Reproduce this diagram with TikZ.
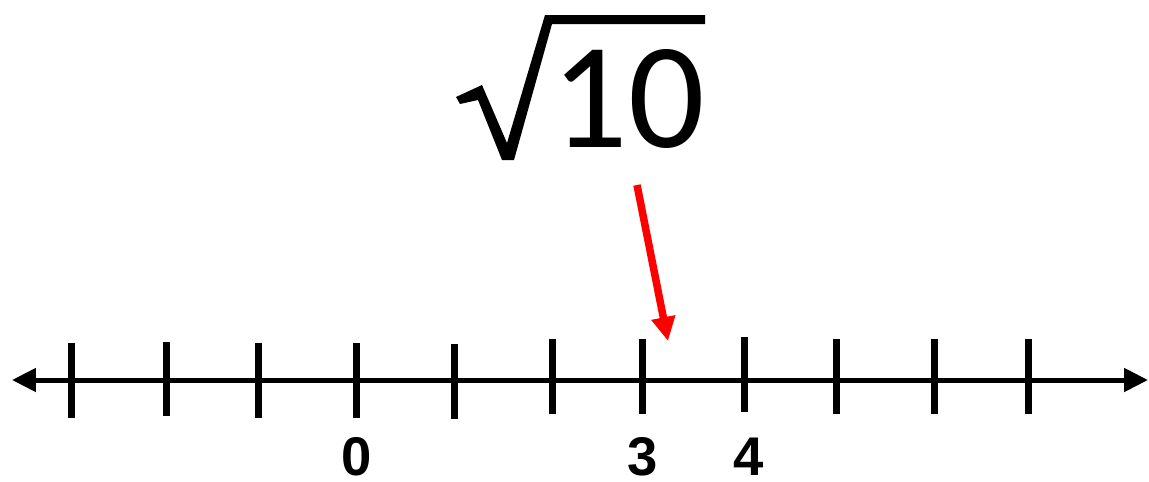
\documentclass[tikz,border=0pt]{standalone}
\usepackage{fontspec}
\setmainfont{Liberation Sans}
\newfontfamily\rootfont{Carlito}
\usetikzlibrary{arrows.meta}

\begin{document}
\begin{tikzpicture}[
    x=0.02cm, y=-0.02cm,
    axis/.style={
        line width=0.1cm,
        {Triangle[length=0.48cm,width=0.46cm]}-{Triangle[length=0.48cm,width=0.46cm]}
    },
    tick/.style={line width=0.14cm},
    lbl/.style={font=\fontsize{31}{31}\selectfont\bfseries, anchor=base, inner sep=0pt},
    pointer/.style={
        draw=red, line width=0.15cm,
        -{Triangle[length=0.48cm,width=0.46cm]}
    }
]
    \useasboundingbox (0,0) rectangle (1149,481);

    % number line
    \coordinate (left) at (12,380);
    \coordinate (right) at (1148,380);
    \draw[axis] (left) -- (right);

    % tick marks: x / top / bottom
    \foreach \x/\t/\b [count=\i] in {71/343/418, 166/342/416, 258/343/418,
        356/343/418, 454/344/419, 552/339/414, 642/339/414, 744/337/412,
        836/339/414, 934/339/414, 1028/339/414}
        \draw[tick] (\x,\t) coordinate (t\i) -- (\x,\b) coordinate (b\i);

    % labels
    \node[lbl] (zero) at (357,475) {0};
    \node[lbl] (three) at (643,475) {3};
    \node[lbl] (four) at (749,475) {4};

    % square root of ten
    \node[font=\rootfont\fontsize{86}{86}\selectfont, anchor=base, inner sep=0pt]
        (ten) at (628,147) {10};
    \fill (456,97) -- (482,85) -- (507,143) -- (545,15) -- (705,15)
        -- (705,24) -- (552,24) -- (514,160) -- (502,160) -- (478,100)
        -- (460,104) -- cycle;

    % arrow to the value
    \coordinate (tail) at (637,185);
    \coordinate (tip) at (668,341);
    \draw[pointer] (tail) -- (tip);
\end{tikzpicture}
\end{document}
